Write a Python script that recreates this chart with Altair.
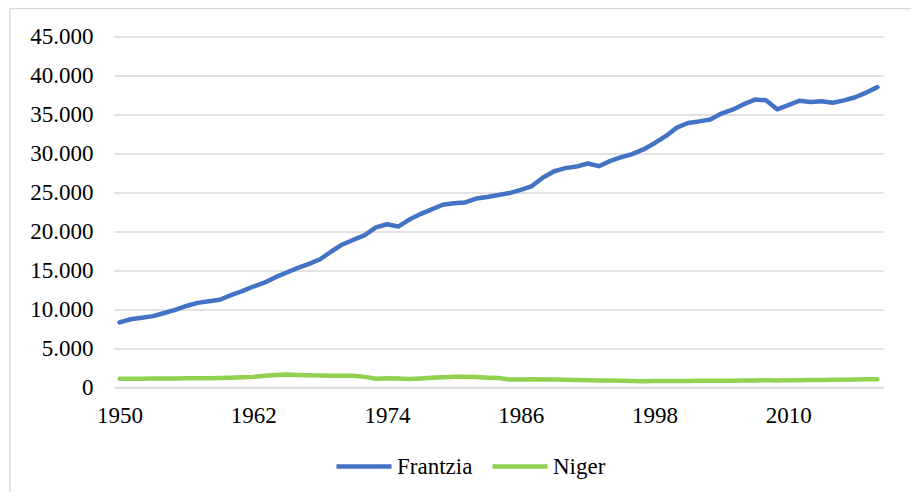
import altair as alt
import pandas as pd

years = list(range(1950, 2019))
frantzia = [
    8300, 8700, 8900, 9100, 9500, 9900, 10400, 10800, 11000, 11200,
    11800, 12300, 12900, 13400, 14100, 14700, 15300, 15800, 16400, 17400,
    18300, 18900, 19500, 20500, 20900, 20600, 21500, 22200, 22800, 23400,
    23600, 23700, 24200, 24400, 24650, 24900, 25300, 25800, 26900, 27700,
    28100, 28300, 28700, 28350, 29000, 29500, 29900, 30500, 31300, 32200,
    33300, 33900, 34100, 34350, 35100, 35600, 36300, 36900, 36800, 35650,
    36200, 36750, 36600, 36700, 36500, 36800, 37200, 37800, 38500,
]
niger = [
    1050, 1060, 1070, 1080, 1090, 1100, 1110, 1120, 1130, 1150,
    1200, 1250, 1300, 1450, 1550, 1600, 1550, 1500, 1480, 1430,
    1450, 1450, 1300, 1050, 1120, 1080, 1020, 1100, 1180, 1250,
    1300, 1300, 1280, 1200, 1150, 950, 970, 1000, 950, 970,
    920, 900, 880, 820, 830, 800, 760, 750, 760, 780,
    760, 770, 790, 800, 790, 800, 820, 840, 860, 850,
    870, 860, 900, 910, 930, 940, 960, 980, 1000,
]
series_names = ["Frantzia", "Niger"]
colors = ["#4472C4", "#92D050"]
x_ticks = [1950, 1962, 1974, 1986, 1998, 2010]
y_ticks = list(range(0, 45001, 5000))

df = pd.DataFrame({
    "year": years * 2,
    "value": frantzia + niger,
    "series": [series_names[0]] * len(years) + [series_names[1]] * len(years),
})

font = "Liberation Serif"

lines = alt.Chart(df).mark_line(
    strokeWidth=4.5, strokeCap="round", strokeJoin="round"
).encode(
    x=alt.X(
        "year:Q",
        scale=alt.Scale(domain=[1949.5, 2018.5], nice=False, zero=False),
        axis=alt.Axis(
            values=x_ticks, format="d", title=None, grid=False, ticks=False,
            domain=True, domainColor="#D9D9D9", domainWidth=1.5,
            labelPadding=17, labelFlush=False,
            labelFont=font, labelFontSize=23, labelColor="#000000",
        ),
    ),
    y=alt.Y(
        "value:Q",
        scale=alt.Scale(domain=[0, 45000], nice=False),
        axis=alt.Axis(
            values=y_ticks,
            labelExpr="replace(format(datum.value, ',.0f'), ',', '.')",
            title=None, ticks=False, domain=False,
            gridColor="#D9D9D9", gridWidth=1.5, labelPadding=21,
            labelFont=font, labelFontSize=23, labelColor="#000000",
        ),
    ),
    color=alt.Color(
        "series:N",
        scale=alt.Scale(domain=series_names, range=colors),
        legend=alt.Legend(
            title=None, orient="none", direction="horizontal",
            legendX=220, legendY=400, padding=0,
            symbolType="stroke", symbolSize=3025, symbolStrokeWidth=4.5,
            labelFont=font, labelFontSize=23, labelColor="#000000",
            labelOffset=3, columnPadding=10,
        ),
    ),
)

frame_data = pd.DataFrame({"k": [0]})
frame_left = alt.Chart(frame_data).mark_rule(color="#D9D9D9", strokeWidth=1.5).encode(
    x=alt.value(-104), y=alt.value(-28.5), y2=alt.value(460)
)
frame_top = alt.Chart(frame_data).mark_rule(color="#D9D9D9", strokeWidth=1.5).encode(
    x=alt.value(-104), x2=alt.value(800), y=alt.value(-28)
)

chart = alt.layer(frame_left, frame_top, lines).properties(
    width=769,
    height=350.5,
    padding={"left": 106, "top": 28.5, "right": 28, "bottom": 105},
    autosize=alt.AutoSizeParams(type="none"),
).configure_view(
    stroke=None
)

chart.save("out.html", embed_options={"renderer": "svg", "actions": False})
